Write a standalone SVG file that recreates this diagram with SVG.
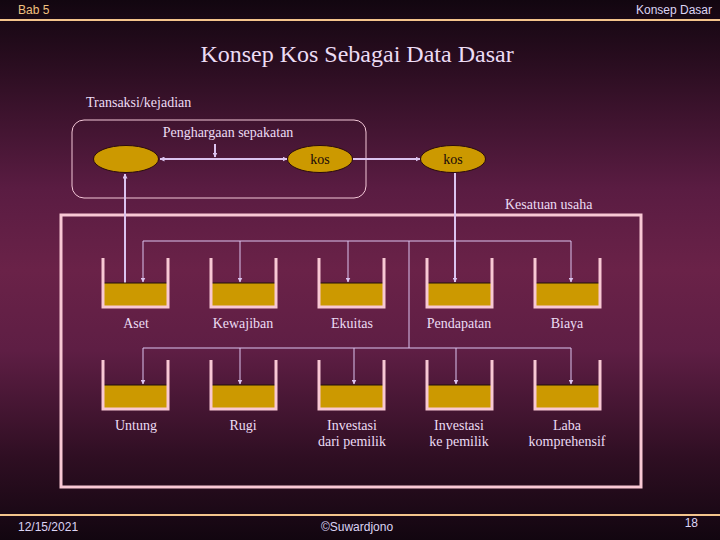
<svg xmlns="http://www.w3.org/2000/svg" width="720" height="540" viewBox="0 0 720 540">
<defs>
<linearGradient id="bg" x1="0" y1="0" x2="0" y2="1">
<stop offset="0" stop-color="#120610"/>
<stop offset="0.12" stop-color="#2a0d20"/>
<stop offset="0.35" stop-color="#5a1c42"/>
<stop offset="0.5" stop-color="#6a2248"/>
<stop offset="0.65" stop-color="#5e1e44"/>
<stop offset="0.85" stop-color="#2e0e22"/>
<stop offset="1" stop-color="#120610"/>
</linearGradient>
<marker id="ah" viewBox="0 0 10 10" refX="9" refY="5" markerWidth="5" markerHeight="5" orient="auto-start-reverse" markerUnits="userSpaceOnUse">
<path d="M0,0 L10,5 L0,10 z" fill="#dcc4f0"/>
</marker>
<style>
.lbl{font-family:"Liberation Serif",serif;font-size:14px;fill:#ecdcf4;text-anchor:middle}
.hdr{font-family:"Liberation Sans",sans-serif;font-size:12px}
.con{stroke:#dcc4f0;stroke-width:2;fill:none}
.thin{stroke:#dcc4f0;stroke-width:1;fill:none}
.wall{stroke:#f8c8d4;stroke-width:3;fill:none}
.liq{fill:#cc9900}
.ell{fill:#cc9900;stroke:#2a0a10;stroke-width:1}
</style>
</defs>
<rect width="720" height="540" fill="url(#bg)"/>
<line x1="0" y1="20" x2="720" y2="20" stroke="#f4c48c" stroke-width="2"/>
<line x1="0" y1="515" x2="720" y2="515" stroke="#f4c48c" stroke-width="2"/>
<text x="18" y="14" class="hdr" fill="#f0c080">Bab 5</text>
<text x="712" y="14" class="hdr" fill="#dcd4f4" text-anchor="end">Konsep Dasar</text>
<text x="18" y="531" class="hdr" fill="#dcd4f4">12/15/2021</text>
<text x="357" y="531" class="hdr" fill="#dcd4f4" text-anchor="middle">©Suwardjono</text>
<text x="698" y="527" class="hdr" fill="#dcd4f4" text-anchor="end">18</text>
<text x="357" y="62" font-family="Liberation Serif,serif" font-size="24" fill="#ecdcf4" text-anchor="middle">Konsep Kos Sebagai Data Dasar</text>
<text x="86" y="107" class="lbl" style="text-anchor:start">Transaksi/kejadian</text>
<rect x="72" y="120" width="294" height="78" rx="12" fill="none" stroke="#f4c8d8" stroke-width="1"/>
<text x="228" y="137" class="lbl">Penghargaan sepakatan</text>
<text x="505" y="209" class="lbl" style="text-anchor:start">Kesatuan usaha</text>
<rect x="61" y="215" width="580" height="272" fill="none" stroke="#f8c8d4" stroke-width="3"/>
<g id="connectors">
<line x1="215" y1="144" x2="215" y2="157" class="con" marker-end="url(#ah)"/>
<line x1="160" y1="159" x2="287" y2="159" class="con" marker-start="url(#ah)" marker-end="url(#ah)"/>
<line x1="353" y1="159" x2="420" y2="159" class="con" marker-end="url(#ah)"/>
<line x1="455" y1="173" x2="455" y2="282" class="con" marker-end="url(#ah)"/>
<line x1="125" y1="283" x2="125" y2="174" class="con" marker-end="url(#ah)"/>
<polyline points="143,282 143,241 571,241 571,282" class="thin" marker-start="url(#ah)" marker-end="url(#ah)"/>
<line x1="240" y1="241" x2="240" y2="282" class="thin" marker-end="url(#ah)"/>
<line x1="348" y1="241" x2="348" y2="282" class="thin" marker-end="url(#ah)"/>
<line x1="409" y1="241" x2="409" y2="348" class="thin"/>
<polyline points="143,384 143,348 571,348 571,384" class="thin" marker-start="url(#ah)" marker-end="url(#ah)"/>
<line x1="240" y1="348" x2="240" y2="384" class="thin" marker-end="url(#ah)"/>
<line x1="354" y1="348" x2="354" y2="384" class="thin" marker-end="url(#ah)"/>
<line x1="456" y1="348" x2="456" y2="384" class="thin" marker-end="url(#ah)"/>
</g>
<g id="e1"><ellipse cx="126" cy="159" rx="32.5" ry="13.5" class="ell"/></g>
<g id="e2"><ellipse cx="320" cy="159" rx="32.5" ry="13.5" class="ell"/><text x="320" y="164" class="lbl" style="fill:#1a0a0a">kos</text></g>
<g id="e3"><ellipse cx="453" cy="159" rx="32.5" ry="13.5" class="ell"/><text x="453" y="164" class="lbl" style="fill:#1a0a0a">kos</text></g>
<g id="b-aset"><rect x="103" y="283" width="65" height="24" class="liq"/><line x1="103" y1="283" x2="168" y2="283" stroke="#201008"/><path d="M103,258 V307 H168 V258" class="wall"/><text x="136" y="328" class="lbl">Aset</text></g>
<g id="b-kewajiban"><rect x="211" y="283" width="65" height="24" class="liq"/><line x1="211" y1="283" x2="276" y2="283" stroke="#201008"/><path d="M211,258 V307 H276 V258" class="wall"/><text x="243" y="328" class="lbl">Kewajiban</text></g>
<g id="b-ekuitas"><rect x="319" y="283" width="65" height="24" class="liq"/><line x1="319" y1="283" x2="384" y2="283" stroke="#201008"/><path d="M319,258 V307 H384 V258" class="wall"/><text x="352" y="328" class="lbl">Ekuitas</text></g>
<g id="b-pendapatan"><rect x="427" y="283" width="65" height="24" class="liq"/><line x1="427" y1="283" x2="492" y2="283" stroke="#201008"/><path d="M427,258 V307 H492 V258" class="wall"/><text x="459" y="328" class="lbl">Pendapatan</text></g>
<g id="b-biaya"><rect x="535" y="283" width="65" height="24" class="liq"/><line x1="535" y1="283" x2="600" y2="283" stroke="#201008"/><path d="M535,258 V307 H600 V258" class="wall"/><text x="567" y="328" class="lbl">Biaya</text></g>
<g id="b-untung"><rect x="103" y="385" width="65" height="24" class="liq"/><line x1="103" y1="385" x2="168" y2="385" stroke="#201008"/><path d="M103,360 V409 H168 V360" class="wall"/><text x="136" y="430" class="lbl">Untung</text></g>
<g id="b-rugi"><rect x="211" y="385" width="65" height="24" class="liq"/><line x1="211" y1="385" x2="276" y2="385" stroke="#201008"/><path d="M211,360 V409 H276 V360" class="wall"/><text x="243" y="430" class="lbl">Rugi</text></g>
<g id="b-invdari"><rect x="319" y="385" width="65" height="24" class="liq"/><line x1="319" y1="385" x2="384" y2="385" stroke="#201008"/><path d="M319,360 V409 H384 V360" class="wall"/><text x="352" y="430" class="lbl">Investasi</text><text x="352" y="446" class="lbl">dari pemilik</text></g>
<g id="b-invke"><rect x="427" y="385" width="65" height="24" class="liq"/><line x1="427" y1="385" x2="492" y2="385" stroke="#201008"/><path d="M427,360 V409 H492 V360" class="wall"/><text x="459" y="430" class="lbl">Investasi</text><text x="459" y="446" class="lbl">ke pemilik</text></g>
<g id="b-laba"><rect x="535" y="385" width="65" height="24" class="liq"/><line x1="535" y1="385" x2="600" y2="385" stroke="#201008"/><path d="M535,360 V409 H600 V360" class="wall"/><text x="567" y="430" class="lbl">Laba</text><text x="567" y="446" class="lbl">komprehensif</text></g>
</svg>
